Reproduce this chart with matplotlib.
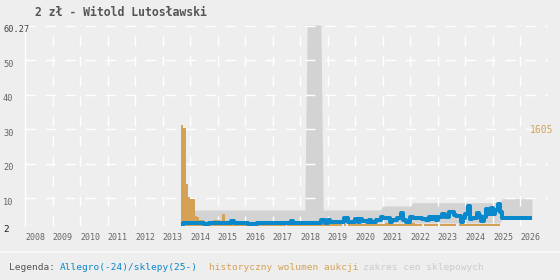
import numpy as np
import matplotlib
matplotlib.use("Agg")
import matplotlib.pyplot as plt
from matplotlib.transforms import blended_transform_factory, offset_copy

BG = "#eeeeee"
BLUE = "#0a88cc"
ORANGE = "#d5a255"
BAND = "#d3d3d3"
MONO = "DejaVu Sans Mono"

# monthly auction volume, starting Sep 2013
vol_start = 2013 + 8 / 12
volume = [
    1605, 1560, 665, 460,
    430, 425, 155, 140, 90, 90, 60, 60, 60, 60, 90, 90,
    90, 35, 185, 35, 30, 30, 30, 30, 30, 30, 30, 30,
    30, 30, 30, 30, 30, 30, 30, 30, 30, 30, 30, 30,
    30, 30, 30, 30, 30, 30, 30, 30, 30, 30, 30, 30,
    30, 30, 30, 30, 30, 30, 30, 30, 30, 30, 30, 30,
    30, 30, 30, 30, 30, 30, 0, 30, 0, 30, 30, 30,
    30, 30, 30, 30, 30, 30, 30, 30, 30, 30, 30, 30,
    30, 48, 48, 48, 30, 30, 30, 30, 30, 30, 30, 30,
    48, 48, 30, 30, 30, 0, 30, 30, 30, 30, 30, 30,
    0, 30, 30, 30, 30, 30, 30, 30, 0, 30, 30, 30,
    30, 30, 30, 30, 30, 30, 30, 30, 30, 30, 30, 30,
    30, 30, 30,
]

# Allegro / shop price, monthly from Sep 2013
price_start = 2013 + 8 / 12
price = [
    2.3, 2.8, 2.8, 2.8,
    2.8, 2.8, 2.8, 2.8, 2.8, 2.8, 2.5, 2.5, 2.8, 2.8, 2.8, 2.8,
    2.8, 2.8, 2.8, 2.8, 2.8, 2.8, 3.25, 2.9, 2.9, 2.9, 2.9, 2.9,
    2.9, 2.6, 2.6, 2.6, 2.6, 2.9, 2.9, 2.9, 2.9, 2.9, 2.9, 2.9,
    2.8, 2.8, 2.8, 2.8, 2.8, 2.8, 2.8, 2.8, 3.35, 2.9, 2.9, 2.9,
    2.9, 2.9, 2.9, 2.9, 2.9, 2.9, 2.9, 2.9, 2.9, 3.75, 3.75, 2.9,
    3.65, 3.0, 3.0, 3.0, 3.0, 3.0, 3.0, 4.15, 4.15, 3.15, 3.15, 3.15,
    3.95, 3.15, 3.85, 3.45, 3.45, 2.95, 3.55, 2.95, 2.95, 3.55, 3.55, 4.45,
    4.15, 4.15, 4.15, 3.15, 3.65, 3.65, 4.15, 4.15, 5.6, 3.65, 3.15, 3.15,
    4.6, 4.15, 4.15, 4.15, 4.15, 3.85, 3.85, 3.55, 4.5, 3.85, 4.5, 3.55,
    4.5, 4.5, 5.3, 4.5, 4.5, 6.05, 6.05, 5.1, 4.7, 4.7, 3.15, 4.15,
    5.5, 7.7, 3.95, 4.35, 4.35, 5.7, 4.9, 3.35, 4.5, 6.85, 5.3, 7.25,
    5.5, 6.45, 8.3, 6.05, 4.15, 4.15, 4.15, 4.15, 4.15, 4.15, 4.15, 4.15,
    4.15, 4.15, 4.15, 4.15, 4.15, 4.15,
]

# shop price range, monthly from Feb 2014
band_start = 2014 + 1 / 12
band_hi = (
    [6.55] * 50
    + [60.27] * 7
    + [6.55] * 26
    + [7.72] * 13
    + [8.69] * 39
    + [9.85] * 14
)
band_lo = [2.8] * 135 + [4.0] * 14

years = list(range(2008, 2027))
ymin, ymax = 2, 60.27
yticks = [10, 20, 30, 40, 50]

fig = plt.figure(figsize=(5.6, 2.8), dpi=100, facecolor=BG)
ax = fig.add_axes([25 / 560, 1 - 225.7 / 280, 523 / 560, 200.7 / 280])
ax.set_facecolor(BG)

# shop range band
bx = band_start + np.arange(len(band_hi)) / 12
ax.fill_between(bx, band_lo, band_hi, color=BAND, lw=0, zorder=1)

# volume bars, scaled so the max reaches half of the price range
vmax = max(volume)
scale = (ymax - ymin) / 2 / vmax
vx = vol_start + np.arange(len(volume)) / 12
ax.bar(vx, np.array(volume) * scale, width=1 / 12, bottom=ymin, align="edge",
       color=ORANGE, lw=0, zorder=3)

# price line
px = price_start + np.arange(len(price)) / 12
ax.plot(px, price, color=BLUE, lw=2.9, drawstyle="steps-post", zorder=4,
        solid_capstyle="butt")

ax.set_xlim(2008, 2027)
ax.set_ylim(ymin, ymax)
ax.set_xticks(range(2009, 2027))
ax.set_yticks([ymin] + yticks + [60])
ax.tick_params(length=0, labelleft=False, labelbottom=False)
ax.grid(True, color="white", lw=1, linestyle=(0, (7.2, 7.2)), zorder=2)
ax.set_axisbelow(False)
for s in ["top", "right", "bottom"]:
    ax.spines[s].set_visible(False)
ax.spines["left"].set_color("white")
ax.spines["left"].set_linewidth(1)
ax.spines["left"].set_zorder(2)

# y labels, left aligned at figure edge, a little below their gridline
ty = offset_copy(blended_transform_factory(fig.transFigure, ax.transData),
                 fig=fig, y=-4, units="dots")
ax.text(3 / 560, ymax, "60.27", transform=ty, ha="left", va="center",
        fontsize=6.2, family=MONO, color="#444444")
for v in yticks:
    ax.text(3 / 560, v, str(v), transform=ty, ha="left", va="center",
            fontsize=6.2, family=MONO, color="#666666")
ax.text(3 / 560, ymin, "2", transform=ty, ha="left", va="center",
        fontsize=6.8, family=MONO, color="#222222")

# x labels, left aligned at year start
tx = blended_transform_factory(ax.transData, fig.transFigure)
for yr in years:
    ax.text(yr, 1 - 238 / 280, str(yr), transform=tx, ha="left", va="center",
            fontsize=6, family=MONO, color="#666666")

# max volume label
ax.text(2026.33, ymin + vmax * scale, str(vmax), ha="left", va="top",
        fontsize=7, family=MONO, color=ORANGE)

fig.text(35 / 560, 1 - 12 / 280, "2 zł - Witold Lutosławski", ha="left",
         va="center", fontsize=8.3, family=MONO, weight="bold", color="#555555")

# legend strip
fig.add_artist(plt.Line2D([0, 1], [28 / 280, 28 / 280], color="#f8f8f8", lw=1.5,
                          transform=fig.transFigure))
ly = 13 / 280
fig.text(9 / 560, ly, "Legenda:", ha="left", va="center", fontsize=6.8,
         family=MONO, color="#555555")
fig.text(60 / 560, ly, "Allegro(-24)/sklepy(25-)", ha="left", va="center",
         fontsize=6.8, family=MONO, color=BLUE)
fig.text(209 / 560, ly, "historyczny wolumen aukcji", ha="left", va="center",
         fontsize=6.8, family=MONO, color=ORANGE)
fig.text(363 / 560, ly, "zakres cen sklepowych", ha="left", va="center",
         fontsize=6.8, family=MONO, color="#cccccc")

fig.savefig("out.png", dpi=100, facecolor=BG)
